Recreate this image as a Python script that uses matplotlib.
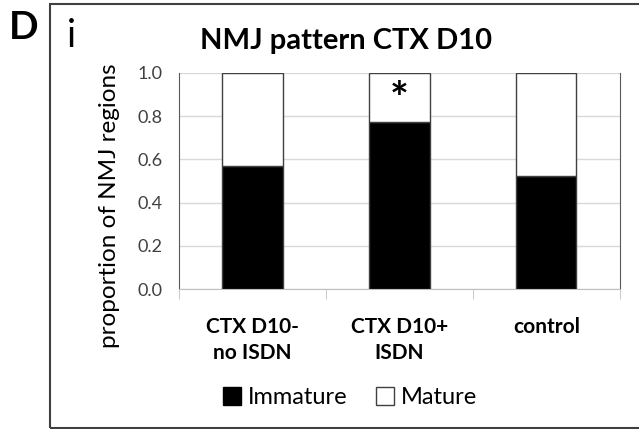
import numpy as np
import matplotlib.pyplot as plt
from matplotlib.patches import Rectangle, Patch

plt.rcParams['font.family'] = ['Lato', 'DejaVu Sans']

# data
categories = ['CTX D10-\nno ISDN', 'CTX D10+\nISDN', 'control']
immature = [0.571, 0.775, 0.524]
mature = [1 - v for v in immature]
yticks = [0.0, 0.2, 0.4, 0.6, 0.8, 1.0]

fig = plt.figure(figsize=(6.39, 4.29), dpi=100)
ax = fig.add_axes([0.280, 0.326, 0.690, 0.504])

x = np.arange(len(categories))
ax.bar(x, immature, width=0.41, color='black', edgecolor='#404040', linewidth=1, zorder=3)
ax.bar(x, mature, width=0.41, bottom=immature, color='white', edgecolor='#404040',
       linewidth=1, zorder=3)

ax.set_xlim(-0.5, 2.5)
ax.set_ylim(0, 1.0)
ax.set_yticks(yticks)
ax.set_yticklabels(['%.1f' % t for t in yticks], fontsize=13, color='#404040')
ax.yaxis.grid(True, color='#d9d9d9', linewidth=1, zorder=0)
ax.tick_params(axis='y', length=0, pad=12)

ax.set_xticks(x)
ax.set_xticklabels(categories, fontsize=15, fontweight='bold', linespacing=1.35)
ax.set_xticks([-0.5, 0.5, 1.5, 2.5], minor=True)
ax.tick_params(axis='x', which='major', length=0, pad=20)
ax.tick_params(axis='x', which='minor', length=7, color='#bfbfbf')

for s in ['left', 'right']:
    ax.spines[s].set_color('#595959')
ax.spines['bottom'].set_color('#bfbfbf')
ax.spines['top'].set_visible(False)

ax.set_ylabel('proportion of NMJ regions', fontsize=17.5)
ax.yaxis.set_label_coords(-0.134, 0.384)

# significance marker
ax.text(x[1], 0.875, '*', ha='center', va='center', fontsize=32, fontweight='bold')

fig.text(0.541, 0.905, 'NMJ pattern CTX D10', ha='center', va='center',
         fontsize=21, fontweight='bold')
fig.text(0.037, 0.935, 'D', ha='center', va='center', fontsize=28, fontweight='bold')
fig.text(0.111, 0.915, 'i', ha='center', va='center', fontsize=27)

handles = [Patch(facecolor='black', edgecolor='black', label='Immature'),
           Patch(facecolor='white', edgecolor='#404040', label='Mature')]
fig.legend(handles=handles, loc='center', bbox_to_anchor=(0.548, 0.073), ncol=2,
           frameon=False, fontsize=17, handlelength=0.75, handleheight=0.75,
           handletextpad=0.3, columnspacing=1.2)

fig.patches.append(Rectangle((50 / 639, 0.002), 1.0, 1 - 0.002 - 4 / 429,
                             transform=fig.transFigure, fill=False,
                             edgecolor='#404040', linewidth=1.5))

fig.savefig('out.png', dpi=100)
